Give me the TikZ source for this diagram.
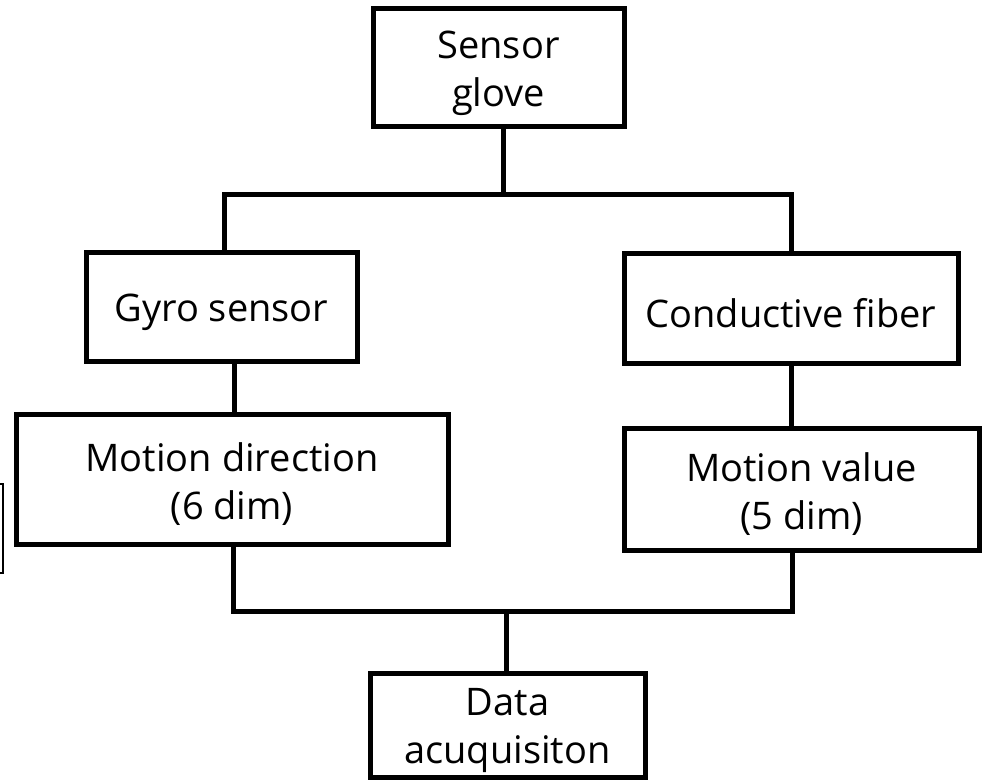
\documentclass[tikz,border=0pt]{standalone}
\usepackage{fontspec}
\setmainfont{Open Sans}
% tall strut for the first text line: sets the text a little low in its box
\newcommand\firststrut{\rule{0pt}{39pt}}
\begin{document}
\begin{tikzpicture}[x=1pt,y=-1pt,
  box/.style={draw=black, line width=5pt, rectangle, align=center, inner sep=0pt,
    font=\fontsize{38}{48}\selectfont},
  wire/.style={draw=black, line width=5pt, line cap=rect, line join=miter}]
\useasboundingbox (0,0) rectangle (982,781);

% blocks
\node[box, minimum width=251pt, minimum height=118pt] (glove) at (498.5,68) {\firststrut Sensor\\glove};
\node[box, minimum width=271pt, minimum height=109pt] (gyro) at (221.5,306.5) {\firststrut Gyro sensor};
\node[box, minimum width=334pt, minimum height=110pt] (fiber) at (791,308) {\firststrut Conductive fiber};
\node[box, minimum width=432pt, minimum height=130pt] (dir) at (232,479) {\firststrut Motion direction\\(6 dim)};
\node[box, minimum width=355pt, minimum height=122pt] (val) at (801.5,489) {\firststrut Motion value\\(5 dim)};
\node[box, minimum width=275pt, minimum height=104pt] (daq) at (507.5,725) {\firststrut Data\\acuquisiton};

% junction points of the bus lines
\coordinate (top) at (503,194);
\coordinate (topL) at (224,194);
\coordinate (topR) at (791,194);
\coordinate (midL) at (234,0);
\coordinate (botL) at (233,611);
\coordinate (botR) at (792,611);
\coordinate (bot) at (506,611);

% split from the glove
\draw[wire] (glove.south -| top) -- (top);
\draw[wire] (gyro.north -| topL) -- (topL) -- (topR) -- (fiber.north -| topR);

% sensor to measured quantity
\draw[wire] (gyro.south -| midL) -- (dir.north -| midL);
\draw[wire] (fiber.south -| topR) -- (val.north -| topR);

% merge into acquisition
\draw[wire] (dir.south -| botL) -- (botL) -- (botR) -- (val.south -| botR);
\draw[wire] (bot) -- (daq.north -| bot);

% edge of a box cut off at the left border
\draw[black, line width=1.5pt] (-10,484) rectangle (3,573);
\end{tikzpicture}
\end{document}
